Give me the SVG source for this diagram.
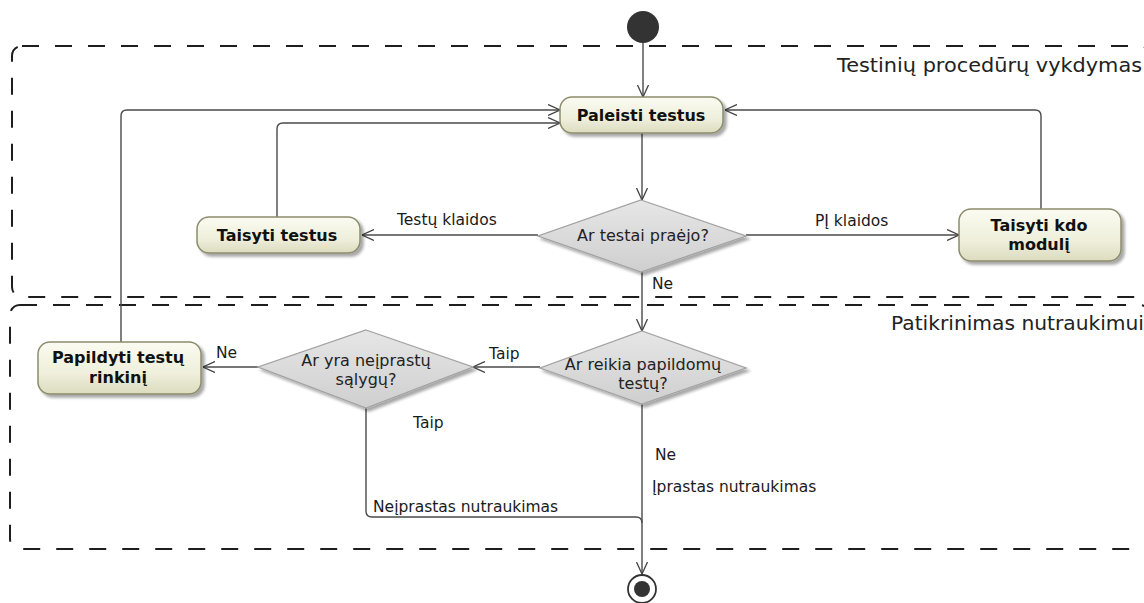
<svg xmlns="http://www.w3.org/2000/svg" width="1144" height="603" viewBox="0 0 1144 603">
  <defs>
    <linearGradient id="actFill" x1="0" y1="0" x2="0" y2="1">
      <stop offset="0" stop-color="#fbfbf1"/>
      <stop offset="0.6" stop-color="#efefdc"/>
      <stop offset="1" stop-color="#dcdcc0"/>
    </linearGradient>
    <linearGradient id="decFill" x1="0" y1="0" x2="0" y2="1">
      <stop offset="0" stop-color="#e6e6e6"/>
      <stop offset="1" stop-color="#cfcfcf"/>
    </linearGradient>
    <filter id="shadow" x="-10%" y="-10%" width="130%" height="140%">
      <feGaussianBlur in="SourceAlpha" stdDeviation="1.5"/>
      <feOffset dx="3" dy="3" result="b"/>
      <feComponentTransfer><feFuncA type="linear" slope="0.35"/></feComponentTransfer>
      <feMerge><feMergeNode/><feMergeNode in="SourceGraphic"/></feMerge>
    </filter>
    <marker id="open" viewBox="0 0 12 12" refX="12" refY="6" markerWidth="12" markerHeight="12" markerUnits="userSpaceOnUse" orient="auto">
      <path d="M0,0.5 L12,6 L0,11.5" fill="none" stroke="#444" stroke-width="1.3"/>
    </marker>
    <style>
      .part { fill: none; stroke: #1e1e1e; stroke-width: 2; stroke-dasharray: 17 16; }
      .ptitle { font-family: "DejaVu Sans", sans-serif; font-size: 20px; fill: #222; text-anchor: end; }
      .act { fill: url(#actFill); stroke: #8c8c6c; stroke-width: 1.5; filter: url(#shadow); }
      .dec { fill: url(#decFill); stroke: #a2a2a2; stroke-width: 1.3; filter: url(#shadow); }
      .atext { font-family: "DejaVu Sans", sans-serif; font-weight: bold; font-size: 16px; fill: #111; text-anchor: middle; }
      .dtext { font-family: "DejaVu Sans", sans-serif; font-size: 16px; fill: #222; text-anchor: middle; }
      .lbl { font-family: "DejaVu Sans", sans-serif; font-size: 15.5px; fill: #1a1a1a; }
      .edge { fill: none; stroke: #4a4a4a; stroke-width: 1.4; marker-end: url(#open); }
      .plain { fill: none; stroke: #4a4a4a; stroke-width: 1.4; }
    </style>
  </defs>
  <rect width="1144" height="603" fill="#ffffff"/>

  <!-- swimlane partitions -->
  <g id="partition-testing">
    <rect class="part" x="12" y="46" width="1138" height="251" rx="10"/>
    <text class="ptitle" x="1142" y="72" textLength="305" lengthAdjust="spacingAndGlyphs">Testinių procedūrų vykdymas</text>
  </g>
  <g id="partition-check">
    <rect class="part" x="10" y="305" width="1140" height="244" rx="10"/>
    <text class="ptitle" x="1144" y="330" textLength="253" lengthAdjust="spacingAndGlyphs">Patikrinimas nutraukimui</text>
  </g>

  <!-- connectors -->
  <g id="connectors">
    <path class="edge" d="M643,43 V97"/>
    <path class="edge" d="M642,133 V200"/>
    <path class="edge" d="M538,235 H362"/>
    <path class="edge" d="M746,235 H959"/>
    <path class="edge" d="M642,272 V331"/>
    <path class="edge" d="M277,217 V129 Q277,123 283,123 H560"/>
    <path class="edge" d="M121,342 V116 Q121,110 127,110 H560"/>
    <path class="edge" d="M1041,209 V116 Q1041,110 1035,110 H725"/>
    <path class="edge" d="M540,367 H473"/>
    <path class="edge" d="M258,367 H203"/>
    <path class="plain" d="M366,408 V511 Q366,517 372,517 H636 Q642,517 642,523"/>
    <path class="edge" d="M642,404 V574"/>
    <text class="lbl" x="397" y="225">Testų klaidos</text>
    <text class="lbl" x="815" y="226">PĮ klaidos</text>
    <text class="lbl" x="652" y="289">Ne</text>
    <text class="lbl" x="489" y="359">Taip</text>
    <text class="lbl" x="216" y="358">Ne</text>
    <text class="lbl" x="413" y="428">Taip</text>
    <text class="lbl" x="373" y="512">Neįprastas nutraukimas</text>
    <text class="lbl" x="655" y="460">Ne</text>
    <text class="lbl" x="652" y="492">Įprastas nutraukimas</text>
  </g>

  <!-- nodes -->
  <g id="initial">
    <circle cx="643" cy="27" r="16" fill="#333"/>
  </g>
  <g id="paleisti-testus">
    <rect class="act" x="560" y="97" width="163" height="36" rx="12"/>
    <text class="atext" x="641" y="121">Paleisti testus</text>
  </g>
  <g id="taisyti-testus">
    <rect class="act" x="197" y="217" width="163" height="36" rx="12"/>
    <text class="atext" x="277" y="241">Taisyti testus</text>
  </g>
  <g id="taisyti-moduli">
    <rect class="act" x="959" y="209" width="162" height="52" rx="12"/>
    <text class="atext" x="1039" y="231">Taisyti kdo</text>
    <text class="atext" x="1039" y="250">modulį</text>
  </g>
  <g id="papildyti-rinkini">
    <rect class="act" x="38" y="342" width="163" height="52" rx="12"/>
    <text class="atext" x="118" y="363">Papildyti testų</text>
    <text class="atext" x="118" y="383">rinkinį</text>
  </g>
  <g id="ar-testai-praejo">
    <polygon class="dec" points="641,200 746,236 641,272 538,236"/>
    <text class="dtext" x="643" y="241">Ar testai praėjo?</text>
  </g>
  <g id="ar-reikia-papildomu">
    <polygon class="dec" points="642,331 746,368 642,404 540,368"/>
    <text class="dtext" x="643" y="370">Ar reikia papildomų</text>
    <text class="dtext" x="643" y="389">testų?</text>
  </g>
  <g id="ar-yra-neiprastu">
    <polygon class="dec" points="366,330 473,367 366,408 258,367"/>
    <text class="dtext" x="366" y="366">Ar yra neįprastų</text>
    <text class="dtext" x="366" y="385">sąlygų?</text>
  </g>
  <g id="final">
    <circle cx="642" cy="589" r="14" fill="#fff" stroke="#333" stroke-width="1.8"/>
    <circle cx="642" cy="589" r="8" fill="#333"/>
  </g>
</svg>
